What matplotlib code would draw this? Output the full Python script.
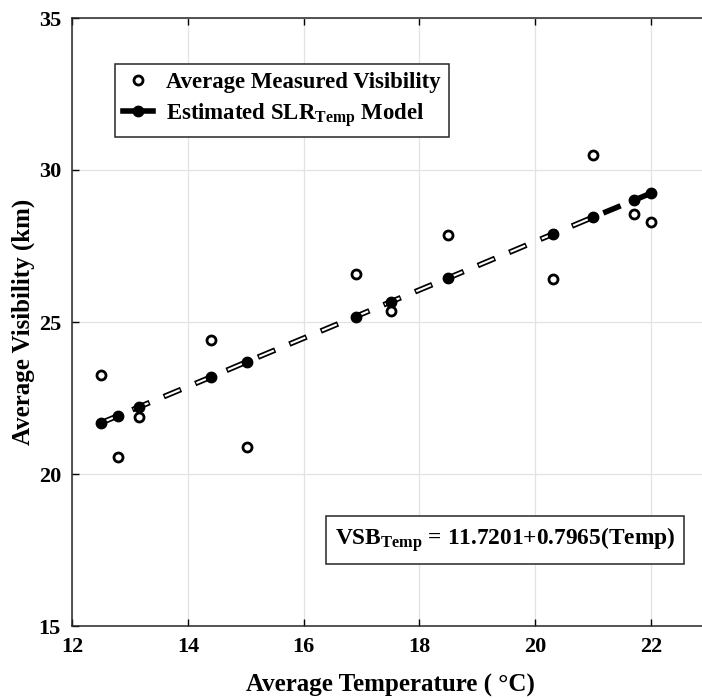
import matplotlib
matplotlib.use("Agg")
import matplotlib.pyplot as plt
from matplotlib.lines import Line2D

plt.rcParams['font.family'] = ['Liberation Serif', 'DejaVu Serif']
plt.rcParams['font.weight'] = 'bold'
plt.rcParams['mathtext.fontset'] = 'custom'
plt.rcParams['mathtext.rm'] = 'Liberation Serif:bold'
plt.rcParams['mathtext.bf'] = 'Liberation Serif:bold'
plt.rcParams['mathtext.it'] = 'Liberation Serif:bold'
plt.rcParams['lines.scale_dashes'] = False

# Data
temp = [12.5, 12.8, 13.15, 14.4, 15.03, 16.9, 17.5, 18.5, 20.3, 21.0, 21.7, 22.0]
measured = [23.26, 20.56, 21.88, 24.40, 20.89, 26.58, 25.36, 27.86, 26.41, 30.49, 28.55, 28.29]
model = [21.68, 21.92, 22.20, 23.19, 23.70, 25.18, 25.66, 26.45, 27.89, 28.45, 29.00, 29.24]
xticks = [12, 14, 16, 18, 20, 22]
yticks = [15, 20, 25, 30, 35]

fig = plt.figure(figsize=(7.02, 6.98), dpi=100)
ax = fig.add_axes([72/702, 1-626/698, 637/702, 608/698])

ax.set_xlim(12, 23)
ax.set_ylim(15, 35)
ax.set_xticks(xticks)
ax.set_yticks(yticks)
ax.grid(True, color='#e3e3e3', linewidth=0.9)
ax.set_axisbelow(True)
ax.tick_params(direction='in', top=True, right=True, length=5, width=1.0,
               labelsize=16)
ax.tick_params(axis='x', pad=8)
ax.tick_params(axis='y', pad=8)
for lab in ax.get_xticklabels() + ax.get_yticklabels():
    lab.set_fontweight('bold')
for s in ax.spines.values():
    s.set_linewidth(1.1)
    s.set_color('#262626')

# model line: thick black dashes with white interior
dash_on, dash_off = 13.5, 11.0
ax.plot(temp, model, color='black', linewidth=4.0,
        linestyle=(0, (dash_on, dash_off)), zorder=3)
ax.plot(temp[:10], model[:10], color='white', linewidth=1.5,
        linestyle=(dash_on + dash_off - 1.0, (dash_on - 2.0, dash_off + 2.0)), zorder=4)
ax.plot(temp, model, linestyle='none', marker='o', markersize=7.5,
        color='black', zorder=5)
ax.plot(temp, measured, linestyle='none', marker='o', markersize=6.5,
        markerfacecolor='white', markeredgecolor='black', markeredgewidth=2.0, zorder=6)

ax.set_xlabel('Average Temperature ( °C)', fontsize=18, fontweight='bold', labelpad=12)
ax.set_ylabel('Average Visibility (km)', fontsize=18, fontweight='bold')
ax.yaxis.set_label_coords(-0.058, 0.5)

handles = [
    Line2D([], [], linestyle='none', marker='o', markersize=6.5,
           markerfacecolor='white', markeredgecolor='black', markeredgewidth=2.0),
    Line2D([], [], color='black', linewidth=4.0, marker='o', markersize=7.5,
           markevery=[1]),
]
labels = ['Average Measured Visibility', r'Estimated SLR$_{\mathrm{Temp}}$ Model']
leg = fig.legend(handles, labels, loc='upper left',
                 bbox_to_anchor=(115/702, 1-64/698), borderaxespad=0,
                 frameon=True, fancybox=False, framealpha=1, edgecolor='#262626',
                 handlelength=1.3, handletextpad=0.6, borderpad=0.35,
                 labelspacing=0.35, prop={'weight': 'bold', 'size': 16.4})
leg.get_frame().set_linewidth(1.1)

fig.text(505/702, 1-540/698, r'VSB$_{\mathrm{Temp}}$ = 11.7201+0.7965(Temp)',
         fontsize=16.8, fontweight='bold', ha='center', va='center',
         bbox=dict(boxstyle='square,pad=0.4', facecolor='white', edgecolor='#262626',
                   linewidth=1.1))

fig.savefig('out.png', dpi=100)
